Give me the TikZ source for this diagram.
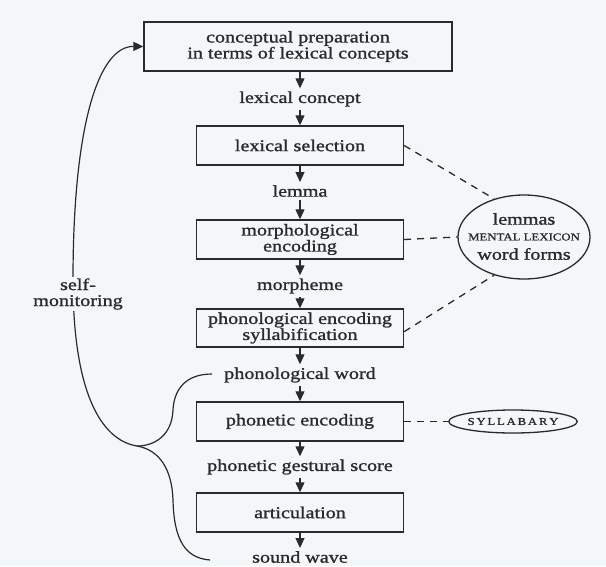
\documentclass[tikz,border=0pt]{standalone}
\usepackage{fontspec}
\setmainfont{Liberation Serif}[FakeStretch=1.22,FakeBold=1.2]
\usetikzlibrary{arrows.meta,shapes.geometric}
\definecolor{bg}{HTML}{F4F7F9}
\definecolor{ink}{HTML}{2A2A2A}
\begin{document}
\begin{tikzpicture}[x=1pt,y=-1pt,
  box/.style={draw=ink,line width=1.4pt,fill=bg,minimum width=207pt,minimum height=39pt,inner sep=2pt,align=center,font=\fontsize{16.5}{16}\selectfont,text=ink},
  lbl/.style={inner xsep=2pt,inner ysep=3pt,font=\fontsize{16.5}{16}\selectfont,text=ink},
  small/.style={font=\fontsize{10.5}{10.5}\selectfont,text=ink},
  arr/.style={draw=ink,line width=1.2pt,-{Triangle[width=9pt,length=10pt]}},
  dsh/.style={draw=ink,line width=1.3pt,dash pattern=on 7pt off 6pt},
  curve/.style={draw=ink,line width=1.2pt},
  oval/.style={draw=ink,line width=1.3pt,ellipse,fill=bg}]
\fill[bg] (0,0) rectangle (606,566);
\useasboundingbox (0,0) rectangle (606,566);
% main column
\node[box,minimum width=308pt,minimum height=49pt] (cp) at (298,46.5) {conceptual preparation\\in terms of lexical concepts};
\node[lbl] (lc) at (300,99) {lexical concept};
\node[box] (ls) at (300,145.5) {lexical selection};
\node[lbl] (lm) at (300,191) {lemma};
\node[box] (me) at (300,239.5) {morphological\\encoding};
\node[lbl] (mo) at (300,286) {morpheme};
\node[box,minimum height=38pt] (pe) at (300,328) {phonological encoding\\syllabification};
\node[lbl] (pw) at (300,375) {phonological word};
\node[box] (ph) at (300,421.5) {phonetic encoding};
\node[lbl] (gs) at (300,467) {phonetic gestural score};
\node[box] (ar) at (300,512.5) {articulation};
\node[lbl] (sw) at (300,557) {sound wave};
% vertical arrows
\draw[arr] (lc.north |- cp.south) -- (lc.north);
\draw[arr] (lc) -- (ls);
\draw[arr] (ls) -- (lm);
\draw[arr] (lm) -- (me);
\draw[arr] (me) -- (mo);
\draw[arr] (mo) -- (pe);
\draw[arr] (pe) -- (pw);
\draw[arr] (pw) -- (ph);
\draw[arr] (ph) -- (gs);
\draw[arr] (gs) -- (ar);
\draw[arr] (ar) -- (sw);
% mental lexicon
\node[oval,minimum width=132pt,minimum height=84pt] (lex) at (524,237) {};
\node[lbl,inner sep=0pt] (lexa) at (524,219) {lemmas};
\node[small,inner sep=0pt] (lexb) at (524,237) {MENTAL LEXICON};
\node[lbl,inner sep=0pt] (lexc) at (524,254) {word forms};
% syllabary
\node[oval,small,minimum width=120pt,minimum height=23pt,inner sep=0pt] (syl) at (513,421.5) {S\,Y\,L\,L\,A\,B\,A\,R\,Y};
% dashed links
\draw[dsh] (ls.east) -- (lex.128);
\draw[dsh] (me.east) -- (lex.west);
\draw[dsh] (pe.-2) -- (lex.232);
\draw[dsh] (ph.east) -- (syl.west);
% self-monitoring
\coordinate (cusp) at (137,446);
\coordinate (pwl) at (212,374);
\coordinate (swl) at (210,560);
\coordinate (smt) at (73,280);
\draw[curve] (cusp) .. controls (100,440) and (73,390) .. (smt);
\draw[arr] (smt) .. controls (73,120) and (100,46) .. (cp.west);
\draw[curve] (pwl) .. controls (185,374) and (174,390) .. (173,410) .. controls (172,435) and (155,446) .. (cusp);
\draw[curve] (cusp) .. controls (160,450) and (172,470) .. (173,500) .. controls (174,540) and (185,558) .. (swl);
\node[lbl,fill=bg,align=center,inner sep=1pt] (sm) at (78,294) {self-\\monitoring};
\end{tikzpicture}
\end{document}
